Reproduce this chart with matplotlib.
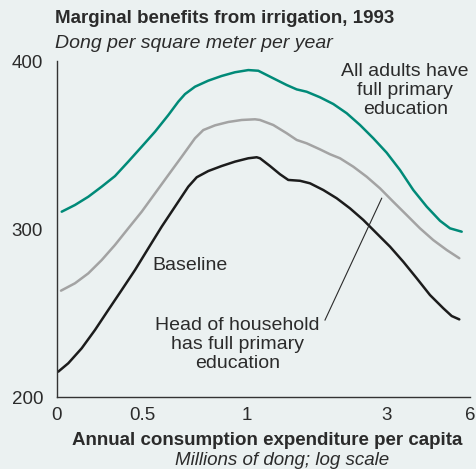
import numpy as np
import matplotlib.pyplot as plt

# position along the (log) expenditure axis, 0-100
tick_pos = [0, 20.6, 46.0, 79.9, 100]
tick_labels = ["0", "0.5", "1", "3", "6"]

adults_x = [1.14, 4.36, 7.58, 10.82, 14.04, 17.26, 20.51, 23.73, 26.95, 29.37, 30.99, 33.41,
            36.63, 39.88, 43.10, 46.32, 48.74, 52.37, 55.62, 58.04, 60.46, 63.68,
            66.90, 70.15, 73.37, 76.59, 79.83, 83.05, 86.27, 89.52, 92.74, 95.16, 97.99]
adults_y = [310.3, 314.3, 319.2, 325.2, 331.5, 340.1, 349.0, 357.9, 367.8, 375.8, 380.3, 384.7,
            388.3, 391.1, 393.3, 394.6, 394.2, 389.7, 385.7, 383.1, 381.7, 378.4,
            374.4, 368.9, 361.9, 354.0, 345.4, 335.1, 323.2, 313.3, 304.9, 300.4, 298.4]

head_x = [0.97, 4.36, 7.58, 10.82, 14.04, 17.26, 20.51, 23.73, 26.95, 30.19, 33.41, 35.42,
          38.26, 41.48, 44.72, 47.94, 49.15, 52.37, 55.62, 58.04, 60.46, 63.68, 66.10,
          68.52, 71.74, 74.99, 78.21, 81.43, 84.67, 87.89, 91.11, 94.36, 97.41]
head_y = [263.3, 267.7, 273.6, 281.5, 290.5, 300.4, 310.3, 321.2, 332.1, 343.0, 354.0, 358.9,
          361.7, 363.7, 364.9, 365.3, 364.9, 361.9, 357.0, 353.0, 351.0, 347.4, 344.5,
          342.1, 337.1, 331.1, 324.2, 316.2, 308.3, 300.4, 293.4, 287.5, 282.6]

base_x = [0.31, 2.74, 5.98, 9.20, 12.42, 15.67, 18.89, 22.11, 25.35, 28.57, 31.79, 33.83,
          36.63, 39.88, 43.10, 46.32, 48.35, 49.15, 51.57, 53.99, 56.00, 58.84, 61.26,
          64.48, 67.72, 70.94, 74.16, 77.41, 80.63, 83.85, 87.09, 90.31, 93.54, 95.57, 97.41]
base_y = [215.1, 220.1, 229.0, 239.9, 251.8, 263.7, 275.6, 288.5, 301.4, 313.3, 325.2, 330.8,
          334.5, 337.5, 340.1, 342.1, 342.7, 342.1, 337.5, 332.6, 329.2, 328.7, 327.2,
          323.2, 318.3, 312.3, 305.4, 297.4, 289.5, 280.5, 270.7, 260.7, 252.8, 248.2, 246.2]

# leader line for the "Head of household" label
leader_x = [64.89, 78.62]
leader_y = [245.8, 318.3]

bg = "#ebf1f1"
txt = "#2b2b2b"
plt.rcParams['font.family'] = ['Liberation Sans', 'DejaVu Sans']

fig = plt.figure(figsize=(4.76, 4.69), dpi=100, facecolor=bg)
ax = fig.add_axes([57/476, 1 - 397/469, 413/476, 336/469])
ax.set_facecolor(bg)

kw = dict(lw=1.8, solid_capstyle="round", solid_joinstyle="round")
ax.plot(adults_x, adults_y, color="#008a78", **kw)
ax.plot(head_x, head_y, color="#a3a3a3", **kw)
ax.plot(base_x, base_y, color="#1c1c1c", **kw)
ax.plot(leader_x, leader_y, color=txt, lw=0.8)

ax.set_xlim(0, 100)
ax.set_ylim(200, 400)
ax.set_xticks(tick_pos)
ax.set_xticklabels(tick_labels)
ax.set_yticks([200, 300, 400])
ax.tick_params(length=0, labelsize=13.5, colors=txt)
ax.tick_params(axis="y", pad=10)
ax.tick_params(axis="x", pad=7)
for s in ["top", "right"]:
    ax.spines[s].set_visible(False)
for s in ["left", "bottom"]:
    ax.spines[s].set_color("#333333")
    ax.spines[s].set_linewidth(1)

ax.text(84.3, 382.4, "All adults have\nfull primary\neducation", ha="center", va="center",
        fontsize=14, color=txt, linespacing=1.15)
ax.text(23, 278.1, "Baseline", ha="left", va="center", fontsize=14, color=txt)
ax.text(43.7, 231.5, "Head of household\nhas full primary\neducation", ha="center", va="center",
        fontsize=14, color=txt, linespacing=1.15)

fig.text(55/476, 1 - 18.3/469, "Marginal benefits from irrigation, 1993", fontsize=13.5,
         fontweight="bold", color=txt, ha="left", va="center")
fig.text(55/476, 1 - 43.3/469, "Dong per square meter per year", fontsize=14,
         style="italic", color=txt, ha="left", va="center")
fig.text(266.7/476, 1 - 440/469, "Annual consumption expenditure per capita", fontsize=13.5,
         fontweight="bold", color=txt, ha="center", va="center")
fig.text(281.7/476, 1 - 460/469, "Millions of dong; log scale", fontsize=13.5,
         style="italic", color=txt, ha="center", va="center")

fig.savefig("out.png", dpi=100, facecolor=bg)
